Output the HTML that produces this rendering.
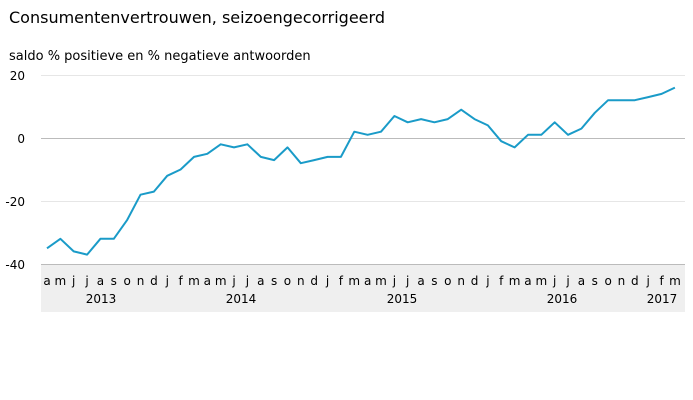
<!DOCTYPE html><html><head><style>body{margin:0;background:#fff}svg{display:block}text{font-family:"DejaVu Sans","Liberation Sans",sans-serif;fill:#000}</style></head><body>
<svg width="693" height="400" viewBox="0 0 693 400">
<text x="9" y="23" font-size="16">Consumentenvertrouwen, seizoengecorrigeerd</text>
<text x="9" y="60" font-size="13">saldo % positieve en % negatieve antwoorden</text>
<rect x="41" y="265" width="644" height="47" fill="#efefef"/>
<line x1="41" x2="685" y1="75.5" y2="75.5" stroke="#e6e6e6"/>
<line x1="41" x2="685" y1="201.5" y2="201.5" stroke="#e6e6e6"/>
<line x1="41" x2="685" y1="138.5" y2="138.5" stroke="#bbb"/>
<line x1="41" x2="685" y1="264.5" y2="264.5" stroke="#bbb"/>
<g font-size="12" text-anchor="end"><text x="25" y="80">20</text><text x="25" y="143">0</text><text x="25" y="206">-20</text><text x="25" y="269">-40</text></g>
<g id="m" font-size="12" text-anchor="middle"></g>
<g font-size="12" text-anchor="middle"><text x="101" y="303">2013</text><text x="241" y="303">2014</text><text x="402" y="303">2015</text><text x="562" y="303">2016</text><text x="662" y="303">2017</text></g>
<polyline id="p" fill="none" stroke="#1a9bc8" stroke-width="2" stroke-linejoin="round"/>
</svg>
<script>
var d=[-35,-32,-36,-37,-32,-32,-26,-18,-17,-12,-10,-6,-5,-2,-3,-2,-6,-7,-3,-8,-7,-6,-6,2,1,2,7,5,6,5,6,9,6,4,-1,-3,1,1,5,1,3,8,12,12,12,13,14,16];
var ms="amjjasondjfm";var pts=[];var g=document.getElementById('m');
for(var i=0;i<d.length;i++){var x=47+i*13.36;pts.push(x.toFixed(1)+","+(138-d[i]*3.15).toFixed(1));
var t=document.createElementNS("http://www.w3.org/2000/svg","text");t.setAttribute("x",x);t.setAttribute("y",285);t.textContent=ms[i%12];g.appendChild(t);}
document.getElementById('p').setAttribute("points",pts.join(" "));
</script>
</body></html>
